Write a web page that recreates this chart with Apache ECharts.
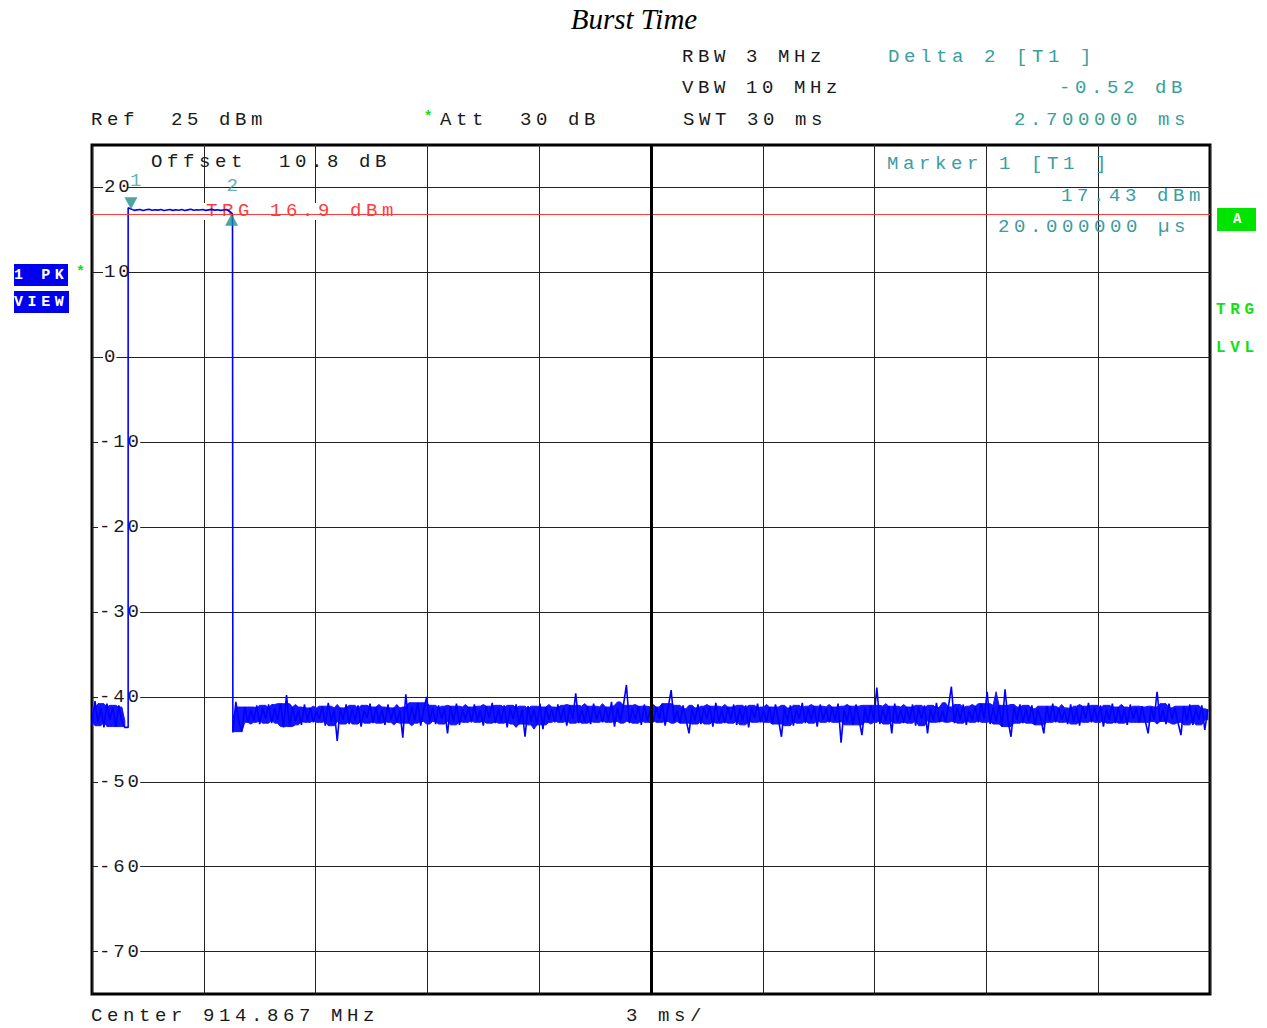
<!DOCTYPE html>
<html>
<head>
<meta charset="utf-8">
<script src="https://cdn.jsdelivr.net/npm/echarts@6/dist/echarts.min.js"></script>
<style>
html,body{margin:0;padding:0;background:#fff;}
#chart{width:1267px;height:1028px;}
#chart text[style*="monospace"]{letter-spacing:4.6px;}
#chart text[style*="Cousine"]{letter-spacing:2.8px;}
</style>
</head>
<body>
<div id="chart"></div>
<script>
// ---- sweep / axis settings ----
const sweepTimeMs = 30;
const timeDivMs = 3;
const centerTimeMs = 15;
const refLevelDbm = 25;
const bottomLevelDbm = -75;
const levelStepDb = 5;      // ticks every 5 dB, grid lines drawn on every 10 dB
const sampleStepMs = 0.08;

// ---- trace (dBm) ----
const riseTimeMs = 0.97;
const fallTimeMs = 3.78;
const preBurstDbm = [-43.4,-40.5,-42.9,-41.3,-43.6,-40.8,-42.7,-41.2,-43.5,-41.0,-42.8,-43.6];
const burstDbm = [17.62,17.45,17.3,17.36,17.41,17.29,17.37,17.42,17.31,17.38,17.33,17.4,17.28,17.35,17.41,17.3,17.37,17.32,17.4,17.29,17.36,17.43,17.31,17.38,17.34,17.4,17.3,17.36,17.42,17.33,17.38,17.3,17.35,17.4,17.2,16.9];
const postBurstDbm = [
-44.2,-40.6,-42.9,-44.1,-41.2,-43.0,-41.5,-42.8,-41.0,-43.2,-41.3,-42.6,-40.9,-43.1,-41.4,-42.7,-40.8,-43.6,-39.8,-43.5,
-41.2,-42.9,-41.6,-43.3,-40.9,-42.8,-41.3,-43.0,-41.7,-42.6,-41.1,-43.4,-40.7,-42.9,-41.5,-45.2,-41.3,-42.7,-40.9,-43.2,
-41.4,-42.8,-41.0,-43.5,-41.6,-42.5,-40.8,-43.1,-41.2,-42.9,-41.5,-43.3,-40.9,-42.7,-41.3,-43.0,-41.6,-44.8,-39.7,-43.1,
-41.2,-42.8,-40.7,-43.4,-41.5,-40.0,-42.9,-41.3,-43.2,-41.0,-42.6,-41.4,-44.3,-41.1,-42.9,-40.8,-43.3,-41.5,-42.7,-41.2,
-43.0,-40.9,-42.8,-41.6,-43.4,-41.1,-42.5,-40.7,-43.1,-41.4,-42.9,-41.0,-43.6,-41.3,-42.6,-40.9,-43.2,-41.5,-44.7,-41.1,
-42.9,-41.4,-43.3,-40.8,-43.8,-41.2,-42.7,-41.5,-43.0,-40.9,-42.8,-41.3,-43.4,-41.0,-42.6,-39.6,-43.1,-41.4,-42.9,-41.1,
-43.2,-40.8,-42.7,-41.5,-43.0,-41.2,-42.8,-40.6,-43.5,-41.3,-42.9,-41.0,-38.6,-43.1,-41.4,-42.7,-41.1,-43.3,-40.9,-42.8,
-41.5,-43.0,-41.2,-42.6,-40.8,-43.4,-41.3,-39.2,-42.9,-41.6,-43.1,-41.0,-42.7,-44.3,-41.4,-42.8,-40.9,-43.2,-41.3,-42.6,
-41.1,-43.5,-40.7,-42.9,-41.5,-43.1,-41.2,-42.7,-40.9,-43.3,-41.4,-42.8,-41.0,-43.6,-41.3,-42.5,-40.8,-43.0,-41.6,-42.9,
-41.2,-43.2,-40.9,-42.7,-44.7,-41.3,-42.9,-41.0,-43.4,-41.5,-42.6,-40.7,-43.1,-41.3,-42.8,-41.1,-43.5,-40.9,-42.7,-41.4,
-43.0,-41.2,-42.8,-40.8,-45.4,-41.5,-42.9,-41.1,-43.3,-40.9,-42.6,-44.5,-41.3,-43.0,-41.0,-42.7,-38.9,-43.2,-41.4,-42.8,
-41.1,-44.3,-40.8,-42.9,-41.5,-43.1,-41.2,-42.7,-40.9,-43.4,-41.3,-42.6,-41.0,-44.3,-41.4,-42.8,-40.7,-43.0,-41.6,-42.9,
-41.2,-38.8,-43.1,-41.3,-42.7,-40.9,-43.3,-41.5,-42.8,-41.1,-43.0,-40.8,-42.6,-39.4,-43.2,-41.3,-42.9,-41.0,-43.5,-39.1,
-42.8,-44.7,-41.2,-42.7,-40.9,-43.1,-41.4,-42.9,-41.0,-43.3,-41.5,-42.6,-44.3,-41.1,-42.8,-40.8,-43.0,-41.3,-42.7,-41.6,
-43.2,-40.9,-42.9,-41.4,-43.4,-41.1,-42.6,-40.7,-43.0,-41.3,-42.8,-41.0,-43.5,-41.5,-42.7,-40.8,-43.1,-41.2,-42.9,-41.4,
-43.3,-40.9,-42.6,-41.3,-43.0,-41.1,-42.8,-44.3,-41.2,-42.7,-39.4,-42.9,-41.5,-43.2,-40.8,-42.6,-41.3,-43.0,-44.5,-41.1,
-42.8,-40.9,-43.3,-41.4,-42.7,-41.0,-43.9,-41.5
];

// ---- markers / trigger ----
const markerNames = ['1', '2'];
const markerTimesMs = [1.045, 3.745];
const markerDbm = [17.43, 16.91];
const triggerDbm = 16.9;

// ---- texts ----
const titleText = 'Burst Time';
const headerLeft = ['RBW 3 MHz', 'VBW 10 MHz', 'SWT 30 ms'];
const deltaTexts = ['Delta 2 [T1 ]', '-0.52 dB', '2.700000 ms'];
const markerTexts = ['Marker 1 [T1 ]', '17.43 dBm', '20.000000 \u00b5s'];

// ---- build trace ----
const trace = [];
preBurstDbm.forEach((v, i) => trace.push([i * sampleStepMs, v]));
trace.push([riseTimeMs, preBurstDbm[preBurstDbm.length - 1]]);
burstDbm.forEach((v, i) => trace.push([riseTimeMs + i * sampleStepMs, v]));
trace.push([fallTimeMs, burstDbm[burstDbm.length - 1]]);
postBurstDbm.forEach((v, i) => {
  const t = fallTimeMs + i * sampleStepMs;
  if (t <= sweepTimeMs) trace.push([t, v]);
});

// dense-band envelope of the noise (2nd highest / 2nd lowest of a 7-sample window)
function envelope(vals, t0) {
  const up = [], lo = [];
  for (let i = 0; i < vals.length; i++) {
    const t = t0 + i * sampleStepMs;
    if (t > sweepTimeMs) break;
    const w = vals.slice(Math.max(0, i - 3), Math.min(vals.length, i + 4)).sort((a, b) => a - b);
    up.push([t, w[w.length - 2]]);
    lo.push([t, w[1]]);
  }
  return {up: up, lo: lo};
}
const bands = [envelope(preBurstDbm, 0), envelope(postBurstDbm, fallTimeMs)];

const MONO = '"Liberation Mono", monospace';
const MONO_AX = '"Liberation Mono", Cousine';
const FS = 19;
const TEAL = '#3a9e9e';
const TEAL_D = '#1f8f8f';
const GREEN = '#12e012';
const BLUE = '#0000f0';
const INK = '#1a1a1a';

function txt(text, x, y, opt) {
  opt = opt || {};
  return {
    type: 'text', x: 0, y: 0, z: opt.z != null ? opt.z : 10, silent: true,
    style: {
      text: text, x: x, y: y,
      font: opt.font || (FS + 'px ' + MONO),
      fill: opt.fill || INK,
      textAlign: opt.align || 'left',
      textVerticalAlign: 'middle'
    }
  };
}

const graphics = [
  txt(titleText, 634, 19, {font: 'italic 29px "Liberation Serif", "Times New Roman", serif', fill: '#000', align: 'center'}),
  txt(headerLeft[0], 682, 57),
  txt(headerLeft[1], 682, 88),
  txt(headerLeft[2], 683, 120),
  txt(deltaTexts[0], 888, 57, {fill: TEAL}),
  txt(deltaTexts[1], 1059, 88, {fill: TEAL}),
  txt(deltaTexts[2], 1014, 120, {fill: TEAL}),
  txt('Ref  25 dBm', 91, 120),
  txt('*', 424, 117, {fill: GREEN, font: 'bold 14px ' + MONO}),
  txt('Att  30 dB', 440, 120),
  txt('Offset  10.8 dB', 151, 162),
  txt(markerTexts[0], 887, 164, {fill: TEAL}),
  txt(markerTexts[1], 1061, 196, {fill: TEAL}),
  txt(markerTexts[2], 998, 227, {fill: TEAL}),
  {type: 'rect', z: 2, silent: true, shape: {x: 204, y: 203, width: 191, height: 17}, style: {fill: '#fff'}},
  txt('TRG 16.9 dBm', 206, 211, {fill: '#ff3c3c', z: 2.5}),
  txt('Center 914.867 MHz', 91, 1016),
  txt('3 ms/', 626, 1016),
  // left status boxes
  {type: 'rect', z: 10, silent: true, shape: {x: 14, y: 264, width: 54, height: 22}, style: {fill: BLUE}},
  {type: 'rect', z: 10, silent: true, shape: {x: 14, y: 291, width: 55, height: 22}, style: {fill: BLUE}},
  txt('1 PK', 14, 275, {fill: '#fff', font: 'bold 15px ' + MONO, z: 11}),
  txt('VIEW', 14, 302, {fill: '#fff', font: 'bold 15px ' + MONO, z: 11}),
  txt('*', 76, 272, {fill: GREEN, font: 'bold 15px ' + MONO}),
  // right status
  {type: 'rect', z: 10, silent: true, shape: {x: 1217, y: 208, width: 39, height: 23}, style: {fill: '#00e400'}},
  txt('A', 1233, 219, {fill: '#fff', font: 'bold 14px ' + MONO, z: 11}),
  txt('TRG', 1216, 310, {fill: GREEN, font: 'bold 16px ' + MONO}),
  txt('LVL', 1216, 348, {fill: GREEN, font: 'bold 16px ' + MONO})
];

const labelBase = {fontFamily: MONO_AX, fontSize: FS, color: INK, backgroundColor: '#fff', lineHeight: 18};
const option = {
  animation: false,
  backgroundColor: '#fff',
  grid: {left: 92, right: 57, top: 145, bottom: 34, show: true, borderColor: '#000', borderWidth: 3, backgroundColor: 'transparent'},
  xAxis: {
    type: 'value', min: 0, max: sweepTimeMs, interval: timeDivMs,
    axisLine: {show: false}, axisTick: {show: false}, axisLabel: {show: false},
    splitLine: {show: true, lineStyle: {color: '#222', width: 1}}
  },
  yAxis: {
    type: 'value', min: bottomLevelDbm, max: refLevelDbm, interval: levelStepDb,
    axisLine: {show: false}, axisTick: {show: false},
    splitLine: {show: true, lineStyle: {color: ['rgba(0,0,0,0)', '#222'], width: 1}},
    axisLabel: {
      show: true, inside: true, margin: 6,
      fontFamily: MONO_AX, fontSize: FS, color: INK,
      formatter: function (v) {
        if (Math.abs(v % 10) > 1e-9) return '';
        const s = String(v);
        const key = (v < 0 ? 'n' : 'p') + s.length;
        return (v < 0 ? '' : '{s| }') + '{' + key + '|' + s + '}';
      },
      rich: {
        s: {width: 5, fontFamily: MONO_AX, fontSize: FS},
        n3: Object.assign({padding: [0, 7, 0, 1]}, labelBase),
        p1: Object.assign({padding: [0, 1, 0, 1]}, labelBase),
        p2: Object.assign({padding: [0, 1, 0, 1]}, labelBase)
      }
    }
  },
  graphic: graphics,
  series: [
    {
      name: 'trigger', type: 'line', data: [], z: 1, silent: true,
      markLine: {
        silent: true, symbol: ['none', 'none'], animation: false,
        label: {show: false},
        lineStyle: {color: '#ff3c3c', width: 1, type: 'solid'},
        data: [{yAxis: triggerDbm}]
      }
    },
    {
      name: 'noiseBand', type: 'custom', z: 3, silent: true,
      coordinateSystem: 'cartesian2d',
      data: bands.map(b => [b.up[0][0], b.up[0][1]]),
      clip: true,
      renderItem: function (params, api) {
        const b = bands[params.dataIndex];
        const pts = b.up.map(p => api.coord(p)).concat(b.lo.slice().reverse().map(p => api.coord(p)));
        return {type: 'polygon', shape: {points: pts}, style: {fill: '#1414ff', stroke: '#1414ff', lineWidth: 1}};
      }
    },
    {
      name: 'trace', type: 'line', data: trace, z: 3,
      showSymbol: false, symbol: 'none', silent: true,
      lineStyle: {color: '#0000ff', width: 1.6},
      emphasis: {disabled: true}
    },
    {
      name: 'center', type: 'line', data: [], z: 4, silent: true,
      markLine: {
        silent: true, symbol: ['none', 'none'], animation: false,
        label: {show: false},
        lineStyle: {color: '#000', width: 3, type: 'solid'},
        data: [{xAxis: centerTimeMs}]
      }
    },
    {
      name: 'markers', type: 'scatter', z: 5, silent: true,
      symbol: 'triangle', symbolSize: [13, 12],
      itemStyle: {color: TEAL_D},
      data: markerTimesMs.map((t, i) => ({
        value: [t, markerDbm[i]],
        symbolRotate: i === 0 ? 180 : 0,
        symbolOffset: i === 0 ? [0, -6] : [0, 6],
        label: {
          show: true, position: 'inside', formatter: markerNames[i],
          offset: i === 0 ? [7, -22] : [3, -34],
          color: TEAL, fontFamily: MONO, fontSize: FS
        }
      }))
    }
  ]
};

const chart = echarts.init(document.getElementById('chart'), null, {renderer: 'svg'});
chart.setOption(option);
</script>
</body>
</html>
